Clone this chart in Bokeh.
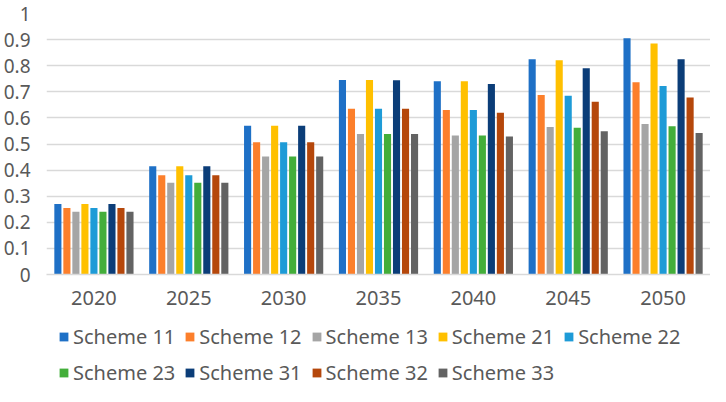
from bokeh.plotting import figure
from bokeh.layouts import column
from bokeh.models import Range1d, FactorRange, FixedTicker, Legend, LegendItem
from bokeh.transform import dodge
from bokeh.embed import file_html
from bokeh.resources import INLINE

years = ["2020", "2025", "2030", "2035", "2040", "2045", "2050"]
schemes = ["Scheme 11", "Scheme 12", "Scheme 13", "Scheme 21", "Scheme 22",
           "Scheme 23", "Scheme 31", "Scheme 32", "Scheme 33"]
s11 = [0.270, 0.415, 0.570, 0.745, 0.740, 0.825, 0.905]
s12 = [0.255, 0.380, 0.507, 0.635, 0.630, 0.688, 0.737]
s13 = [0.240, 0.352, 0.452, 0.538, 0.533, 0.565, 0.577]
s21 = [0.270, 0.415, 0.570, 0.745, 0.740, 0.821, 0.885]
s22 = [0.255, 0.380, 0.507, 0.635, 0.630, 0.685, 0.722]
s23 = [0.240, 0.352, 0.452, 0.538, 0.533, 0.562, 0.568]
s31 = [0.270, 0.415, 0.570, 0.744, 0.730, 0.790, 0.825]
s32 = [0.255, 0.380, 0.507, 0.635, 0.620, 0.662, 0.678]
s33 = [0.240, 0.352, 0.452, 0.538, 0.529, 0.549, 0.542]
series = [s11, s12, s13, s21, s22, s23, s31, s32, s33]
colors = ["#1E70C6", "#FC7F2B", "#A5A5A5", "#FFC000", "#1E9BD7",
          "#43AE3A", "#0B3D78", "#B5470B", "#636363"]
y_ticks = [0, 0.1, 0.2, 0.3, 0.4, 0.5, 0.6, 0.7, 0.8, 0.9, 1]
y_tick_labels = ["0", "0.1", "0.2", "0.3", "0.4", "0.5", "0.6", "0.7", "0.8", "0.9", "1"]

FONT = "Noto Sans"
TXT = "#595959"
GRID = "#D9D9D9"

data = {"year": years}
for name, vals in zip(schemes, series):
    data[name] = vals

p = figure(width=710, height=322, output_backend="svg", toolbar_location=None,
           x_range=FactorRange(*years, range_padding=0), y_range=Range1d(0, 1),
           min_border_top=13, min_border_right=0, min_border_left=37, min_border_bottom=48)
p.outline_line_color = None
p.background_fill_color = "white"

pitch = 0.095
bw = 0.075
for i, (name, col) in enumerate(zip(schemes, colors)):
    p.vbar(x=dodge("year", (i - 4) * pitch, range=p.x_range), top=name, width=bw,
           source=data, fill_color=col, line_color=None)

p.xgrid.grid_line_color = None
p.ygrid.grid_line_color = GRID
p.ygrid.grid_line_width = 1.3
p.ygrid.ticker = FixedTicker(ticks=y_ticks)

p.yaxis.ticker = FixedTicker(ticks=y_ticks)
p.yaxis.major_label_overrides = {t: l for t, l in zip(y_ticks, y_tick_labels)}
p.yaxis.axis_line_color = None
p.yaxis.major_tick_line_color = None
p.yaxis.minor_tick_line_color = None
p.yaxis.major_label_standoff = 10
p.yaxis.major_label_text_font = FONT
p.yaxis.major_label_text_font_size = "19px"
p.yaxis.major_label_text_color = TXT

p.xaxis.axis_line_color = GRID
p.xaxis.axis_line_width = 1.3
p.xaxis.major_tick_line_color = None
p.xaxis.minor_tick_line_color = None
p.xaxis.major_label_standoff = 10
p.xaxis.major_label_text_font = FONT
p.xaxis.major_label_text_font_size = "20px"
p.xaxis.major_label_text_color = TXT

# legend strip below the chart: hidden copies of the series supply the legend keys
lg = figure(width=710, height=64, output_backend="svg", toolbar_location=None,
            x_range=FactorRange(*years, range_padding=0), y_range=Range1d(0, 1),
            x_axis_type=None, y_axis_type=None,
            min_border_top=0, min_border_right=0, min_border_left=0, min_border_bottom=0)
lg.outline_line_color = None
lg.grid.grid_line_color = None
items = []
for i, (name, col) in enumerate(zip(schemes, colors)):
    r = lg.vbar(x=dodge("year", (i - 4) * pitch, range=lg.x_range), top=name, width=bw,
                source=data, fill_color=col, line_color=None, visible=False)
    items.append(LegendItem(label=name, renderers=[r]))

legend = Legend(items=items, orientation="horizontal", ncols=5, location=(12, 0),
                glyph_width=11, glyph_height=11, label_standoff=4, spacing=9,
                label_height=24, inactive_fill_alpha=0,
                label_text_font=FONT, label_text_font_size="20px", label_text_color=TXT,
                padding=0, margin=0, border_line_color=None,
                background_fill_alpha=0)
lg.add_layout(legend, "center")

layout = column(p, lg, spacing=0)
open("out.html", "w").write(file_html(layout, INLINE))
